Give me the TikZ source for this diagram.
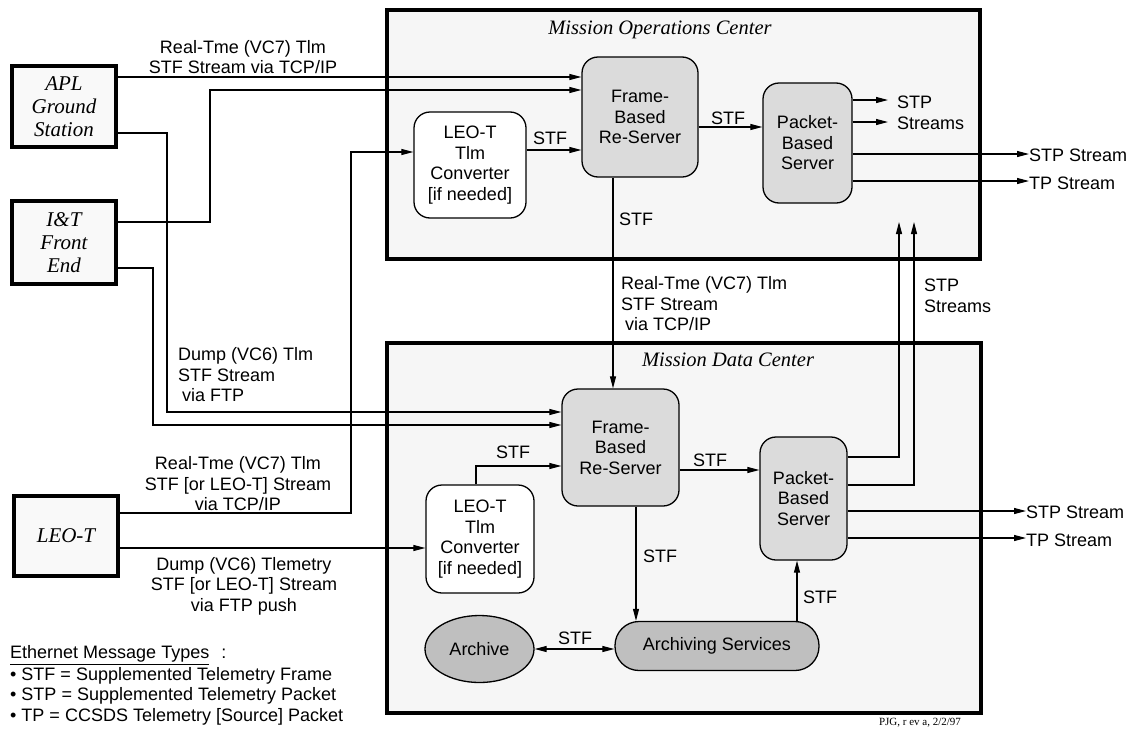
\documentclass[tikz,border=0pt]{standalone}
\usepackage{fontspec}
\setmainfont{Liberation Sans}
\newfontfamily\capfont{Liberation Serif}
\usepackage{tikz}
\usetikzlibrary{arrows.meta,calc,positioning,shapes.geometric}

\begin{document}
\begin{tikzpicture}[x=1pt,y=-1pt,>={Triangle[length=12pt,width=6pt]},
  font=\fontsize{18}{20.5}\selectfont,
  centerbox/.style={draw,line width=4pt,fill=gray!7,inner sep=0pt},
  ctitle/.style={font=\capfont\itshape\fontsize{20.5}{23}\selectfont},
  site/.style={draw,line width=4pt,fill=gray!5,minimum width=104pt,minimum height=81pt,
    inner sep=0pt,align=center,font=\capfont\itshape\fontsize{21}{23}\selectfont},
  srv/.style={draw,line width=1.3pt,rounded corners=16pt,fill=gray!28,align=center,inner sep=0pt},
  conv/.style={draw,line width=1.3pt,rounded corners=16pt,fill=white,align=center,inner sep=0pt},
  arch/.style={draw,line width=1.3pt,fill=gray!50,align=center,inner sep=0pt},
  link/.style={line width=1.1pt},
  txt/.style={inner sep=0pt,align=center}]
  \useasboundingbox[fill=white] (0,0) rectangle (1132,731);
  % the two centers
  \node[centerbox,minimum width=593pt,minimum height=249pt] (moc) at (683.5,134.5) {};
  \node[centerbox,minimum width=594pt,minimum height=370pt] (mdc) at (684,528) {};
  \node[ctitle] (mocT) at (660,30) {Mission Operations Center};
  \node[ctitle] (mdcT) at (728,360) {Mission Data Center};
  % sources
  \node[site] (apl) at (64,106.5) {APL\\Ground\\Station};
  \node[site,minimum height=83pt] (itfe) at (64,242.5) {I\&T\\Front\\End};
  \node[site,minimum height=80pt] (leot) at (66,536) {LEO-T};
  % MOC servers
  \node[srv,minimum width=116pt,minimum height=120pt] (frmA) at (640,117) {Frame-\\Based\\Re-Server};
  \node[conv,minimum width=112pt,minimum height=106pt] (cnvA) at (470,165) {LEO-T\\Tlm\\Converter\\{[if needed]}};
  \node[srv,minimum width=89pt,minimum height=120pt] (pckA) at (807.5,143) {Packet-\\Based\\Server};
  % MDC servers
  \node[srv,minimum width=117pt,minimum height=117pt] (frmB) at (620.5,447.5) {Frame-\\Based\\Re-Server};
  \node[srv,minimum width=87pt,minimum height=123pt] (pckB) at (803.5,498.5) {Packet-\\Based\\Server};
  \node[conv,minimum width=108pt,minimum height=108pt] (cnvB) at (480,539) {LEO-T\\Tlm\\Converter\\{[if needed]}};
  \node[arch,ellipse,minimum width=109pt,minimum height=67pt] (arc) at (479.5,649) {Archive};
  \node[arch,rounded corners=24pt,minimum width=204pt,minimum height=49pt] (asv) at (717,646) {Archiving Services};
  % free ends
  \node[txt,anchor=west,align=left] (stpA) at (897,113) {STP\\Streams};
  \node[txt,anchor=west] (outA1) at (1029,155) {STP Stream};
  \node[txt,anchor=west] (outA2) at (1029,183) {TP Stream};
  \node[txt,anchor=west] (outB1) at (1026,512) {STP Stream};
  \node[txt,anchor=west] (outB2) at (1026,540) {TP Stream};
  \node[txt,anchor=west,align=left] (stpB) at (924,296) {STP\\Streams};
  \coordinate (upB1) at (899,222);
  \coordinate (upB2) at (914,222);
  % into the MOC
  \draw[link,->] (apl.east |- 0,77) -- (frmA.west |- 0,77);
  \node[txt] (lblRtA) at (243,57) {Real-Tme (VC7) Tlm\\STF Stream via TCP/IP};
  \draw[link,->] (itfe.east |- 0,222) -| (210,90) -- (frmA.west |- 0,90);
  \draw[link,->] (leot.east |- 0,513) -| (351,152) -- (cnvA.west |- 0,152);
  \node[txt] (lblRtL) at (238,484) {Real-Tme (VC7) Tlm\\STF [or LEO-T] Stream\\via TCP/IP};
  \draw[link,->] (cnvA.east |- 0,150) -- (frmA.west |- 0,150);
  \node[txt] (lblA1) at (550,138) {STF};
  \draw[link,->] (frmA.east |- 0,127) -- (pckA.west |- 0,127);
  \node[txt] (lblA2) at (728,118) {STF};
  \draw[link,->,shorten >=9pt] (pckA.east |- 0,100) -- (stpA.west |- 0,100);
  \draw[link,->,shorten >=9pt] (pckA.east |- 0,122) -- (stpA.west |- 0,122);
  \draw[link,->] (pckA.east |- 0,154) -- (outA1.west |- 0,154);
  \draw[link,->] (pckA.east |- 0,181) -- (outA2.west |- 0,181);
  % MOC to MDC
  \draw[link,->] (frmA.south -| 613,0) -- (frmB.north -| 613,0);
  \node[txt] (lblA3) at (636,219) {STF};
  \node[txt,anchor=west,align=left] (lblRtB) at (621,304) {Real-Tme (VC7) Tlm\\STF Stream\\\hspace{4pt}via TCP/IP};
  % into the MDC
  \draw[link,->] (apl.east |- 0,133) -| (167,412) -- (frmB.west |- 0,412);
  \draw[link,->] (itfe.east |- 0,268) -| (153,425) -- (frmB.west |- 0,425);
  \node[txt,anchor=west,align=left] (lblDmp) at (178,375) {Dump (VC6) Tlm\\STF Stream\\\hspace{4pt}via FTP};
  \draw[link,->] (leot.east |- 0,548) -- (cnvB.west |- 0,548);
  \node[txt] (lblDmpL) at (244,586) {Dump (VC6) Tlemetry\\STF [or LEO-T] Stream\\via FTP push};
  \draw[link,->] (cnvB.north -| 476,0) |- (frmB.west |- 0,466);
  \node[txt] (lblB1) at (513,452) {STF};
  \draw[link,->] (frmB.east |- 0,470) -- (pckB.west |- 0,470);
  \node[txt] (lblB2) at (710,460) {STF};
  \draw[link,->] (frmB.south -| 636,0) -- (asv.north -| 636,0);
  \node[txt] (lblB3) at (660,556) {STF};
  \draw[link,<->] (arc.east) -- (asv.west |- arc.east);
  \node[txt] (lblB4) at (575,638) {STF};
  \draw[link,->] (asv.north -| 797,0) -- (pckB.south -| 797,0);
  \node[txt] (lblB5) at (820,597) {STF};
  % out of the MDC
  \draw[link,->] (pckB.east |- 0,457) -| (upB1);
  \draw[link,->] (pckB.east |- 0,485) -| (upB2);
  \draw[link,->] (pckB.east |- 0,511) -- (outB1.west |- 0,511);
  \draw[link,->] (pckB.east |- 0,538) -- (outB2.west |- 0,538);
  % legend
  \node[txt,anchor=west] (legH) at (10,655) {\underline{Ethernet Message Types}\hspace{12pt}:};
  \node[txt,anchor=west,align=left] (legB) at (10,696) {\textbullet\ STF = Supplemented Telemetry Frame\\
    \textbullet\ STP = Supplemented Telemetry Packet\\\textbullet\ TP = CCSDS Telemetry [Source] Packet};
  \node[txt,font=\capfont\fontsize{11}{12}\selectfont] (pjg) at (920,723) {PJG, r ev a, 2/2/97};
\end{tikzpicture}
\end{document}
